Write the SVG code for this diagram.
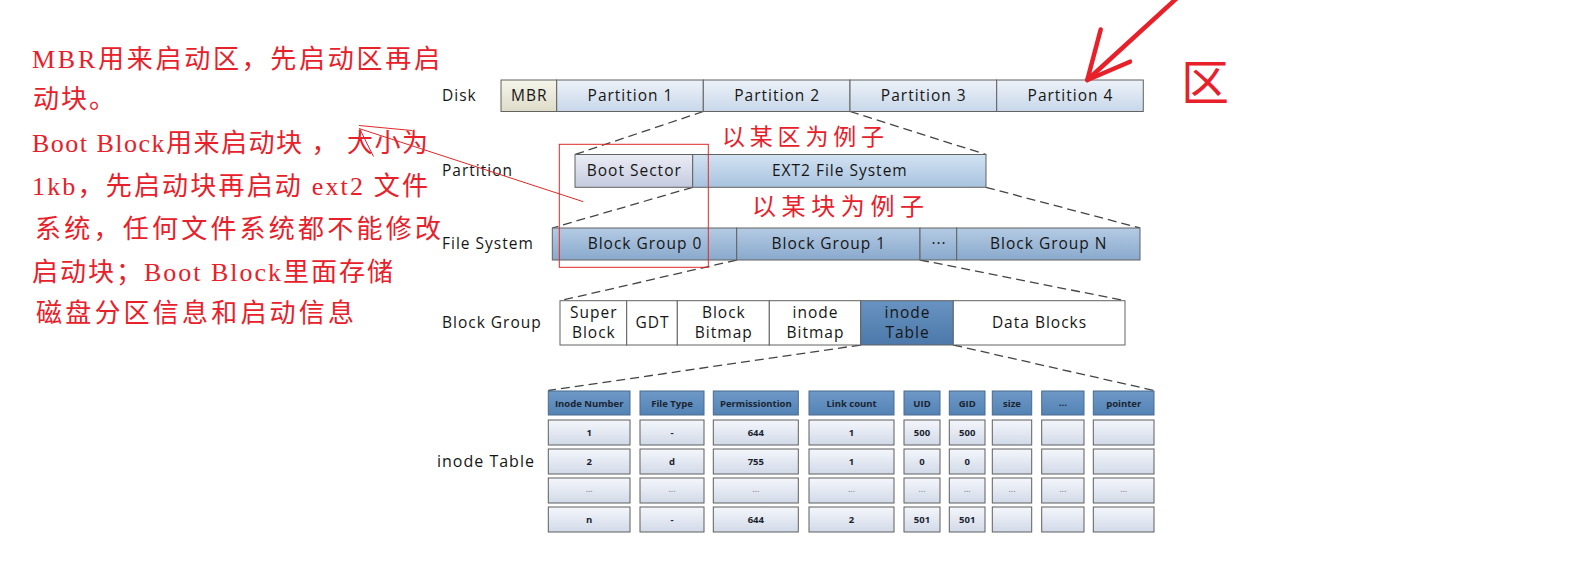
<svg xmlns="http://www.w3.org/2000/svg" width="1584" height="566" viewBox="0 0 1584 566">
<defs>
<linearGradient id="gMBR" x1="0" y1="0" x2="0" y2="1"><stop offset="0" stop-color="#f5f5ea"/><stop offset="1" stop-color="#dedcc8"/></linearGradient>
<linearGradient id="gPart" x1="0" y1="0" x2="0" y2="1"><stop offset="0" stop-color="#edf2f9"/><stop offset="1" stop-color="#c8d7e9"/></linearGradient>
<linearGradient id="gBoot" x1="0" y1="0" x2="0" y2="1"><stop offset="0" stop-color="#ebedf5"/><stop offset="1" stop-color="#c5cadf"/></linearGradient>
<linearGradient id="gExt" x1="0" y1="0" x2="0" y2="1"><stop offset="0" stop-color="#d2e2f2"/><stop offset="1" stop-color="#a8c3df"/></linearGradient>
<linearGradient id="gFS" x1="0" y1="0" x2="0" y2="1"><stop offset="0" stop-color="#b4cbe4"/><stop offset="1" stop-color="#89a9cc"/></linearGradient>
<linearGradient id="gInode" x1="0" y1="0" x2="0" y2="1"><stop offset="0" stop-color="#6893c1"/><stop offset="1" stop-color="#4c79aa"/></linearGradient>
<linearGradient id="gHead" x1="0" y1="0" x2="0" y2="1"><stop offset="0" stop-color="#6e99c7"/><stop offset="1" stop-color="#5383b5"/></linearGradient>
<linearGradient id="gCell" x1="0" y1="0" x2="0" y2="1"><stop offset="0" stop-color="#f4f6fb"/><stop offset="1" stop-color="#d2dae8"/></linearGradient>
</defs>
<style>
.lbl{font-family:"Open Sans","Noto Sans",sans-serif;font-size:15.5px;fill:#161616;letter-spacing:1px}
.c{text-anchor:middle}
.box{stroke:#626262;stroke-width:1}
.cell{fill:url(#gCell);stroke:#5e5e5e;stroke-width:1}
.head{fill:url(#gHead);stroke:#4a6a8c;stroke-width:1}
.tt{font-family:"Open Sans","Noto Sans",sans-serif;font-size:9.5px;font-weight:bold;fill:#1b2430;text-anchor:middle}
.dots{font-family:"Open Sans",sans-serif;font-size:9px;fill:#777;text-anchor:middle}
.dash{stroke:#444;stroke-width:1.3;stroke-dasharray:9 5;fill:none}
.red{font-family:"Liberation Serif","Noto Sans CJK SC",serif;fill:#e8202a}
.rl{stroke:#e02828;stroke-width:1;fill:none}
</style>

<g id="connectors">
<line class="dash" x1="703.3" y1="111.5" x2="575" y2="154.5"/>
<line class="dash" x1="850" y1="111.5" x2="986" y2="154.5"/>
<line class="dash" x1="692.7" y1="187.3" x2="552.3" y2="228"/>
<line class="dash" x1="986" y1="187.3" x2="1140" y2="228"/>
<line class="dash" x1="736.7" y1="260" x2="560" y2="300.7"/>
<line class="dash" x1="920" y1="260" x2="1125" y2="300.7"/>
<line class="dash" x1="860.7" y1="345" x2="548.3" y2="390.5"/>
<line class="dash" x1="953.3" y1="345" x2="1154" y2="390.5"/>
</g>

<g id="disk">
<text class="lbl" x="442" y="100.5">Disk</text>
<rect class="box" x="501" y="80" width="55.7" height="31.5" fill="url(#gMBR)"/>
<text class="lbl c" x="529.3" y="100.5">MBR</text>
<rect class="box" x="556.7" y="80" width="146.6" height="31.5" fill="url(#gPart)"/>
<text class="lbl c" x="630.5" y="100.5">Partition 1</text>
<rect class="box" x="703.3" y="80" width="146.7" height="31.5" fill="url(#gPart)"/>
<text class="lbl c" x="777.2" y="100.5">Partition 2</text>
<rect class="box" x="850" y="80" width="146.7" height="31.5" fill="url(#gPart)"/>
<text class="lbl c" x="923.8" y="100.5">Partition 3</text>
<rect class="box" x="996.7" y="80" width="146.6" height="31.5" fill="url(#gPart)"/>
<text class="lbl c" x="1070.5" y="100.5">Partition 4</text>
</g>

<g id="partition">
<text class="lbl" x="442" y="175.5">Partition</text>
<rect class="box" x="575" y="154.5" width="117.7" height="32.8" fill="url(#gBoot)"/>
<text class="lbl c" x="634.3" y="176">Boot Sector</text>
<rect class="box" x="692.7" y="154.5" width="293.3" height="32.8" fill="url(#gExt)"/>
<text class="lbl c" x="839.8" y="176">EXT2 File System</text>
</g>

<g id="filesystem">
<text class="lbl" x="442" y="249">File System</text>
<rect class="box" x="552.3" y="228" width="184.4" height="32" fill="url(#gFS)"/>
<text class="lbl c" x="645" y="249">Block Group 0</text>
<rect class="box" x="736.7" y="228" width="183.3" height="32" fill="url(#gFS)"/>
<text class="lbl c" x="828.8" y="249">Block Group 1</text>
<rect class="box" x="920" y="228" width="36.7" height="32" fill="url(#gFS)"/>
<text class="lbl c" x="939" y="249">···</text>
<rect class="box" x="956.7" y="228" width="183.3" height="32" fill="url(#gFS)"/>
<text class="lbl c" x="1048.8" y="249">Block Group N</text>
</g>

<g id="blockgroup">
<text class="lbl" x="442" y="327.5">Block Group</text>
<rect class="box" x="560" y="300.7" width="66.7" height="44.3" fill="#fff"/>
<text class="lbl c" x="593.8" y="317.5">Super</text>
<text class="lbl c" x="593.8" y="337.5">Block</text>
<rect class="box" x="626.7" y="300.7" width="50.6" height="44.3" fill="#fff"/>
<text class="lbl c" x="652.5" y="327.5">GDT</text>
<rect class="box" x="677.3" y="300.7" width="92" height="44.3" fill="#fff"/>
<text class="lbl c" x="723.8" y="317.5">Block</text>
<text class="lbl c" x="723.8" y="337.5">Bitmap</text>
<rect class="box" x="769.3" y="300.7" width="91.4" height="44.3" fill="#fff"/>
<text class="lbl c" x="815.5" y="317.5">inode</text>
<text class="lbl c" x="815.5" y="337.5">Bitmap</text>
<rect class="box" x="860.7" y="300.7" width="92.6" height="44.3" fill="url(#gInode)"/>
<text class="lbl c" x="907.5" y="317.5">inode</text>
<text class="lbl c" x="907.5" y="337.5">Table</text>
<rect class="box" x="953.3" y="300.7" width="171.7" height="44.3" fill="#fff"/>
<text class="lbl c" x="1039.5" y="327.5">Data Blocks</text>
</g>

<g id="inodetable">
<text class="lbl" x="437" y="467" style="font-size:16px">inode Table</text>
<rect class="head" x="548.3" y="391" width="81.7" height="24"/><text class="tt" x="589.2" y="406.5">Inode Number</text>
<rect class="head" x="640" y="391" width="64" height="24"/><text class="tt" x="672" y="406.5">File Type</text>
<rect class="head" x="713.3" y="391" width="85" height="24"/><text class="tt" x="755.8" y="406.5">Permissiontion</text>
<rect class="head" x="809" y="391" width="85" height="24"/><text class="tt" x="851.5" y="406.5">Link count</text>
<rect class="head" x="904" y="391" width="36" height="24"/><text class="tt" x="922" y="406.5">UID</text>
<rect class="head" x="949.3" y="391" width="35.7" height="24"/><text class="tt" x="967.2" y="406.5">GID</text>
<rect class="head" x="992.3" y="391" width="39.4" height="24"/><text class="tt" x="1012" y="406.5">size</text>
<rect class="head" x="1041.7" y="391" width="42.3" height="24"/><text class="tt" x="1062.8" y="405.5">...</text>
<rect class="head" x="1093.3" y="391" width="60.7" height="24"/><text class="tt" x="1123.7" y="406.5">pointer</text>
<rect class="cell" x="548.3" y="420" width="81.7" height="25"/><text class="tt" x="589.2" y="436">1</text>
<rect class="cell" x="640" y="420" width="64" height="25"/><text class="tt" x="672" y="436">-</text>
<rect class="cell" x="713.3" y="420" width="85" height="25"/><text class="tt" x="755.8" y="436">644</text>
<rect class="cell" x="809" y="420" width="85" height="25"/><text class="tt" x="851.5" y="436">1</text>
<rect class="cell" x="904" y="420" width="36" height="25"/><text class="tt" x="922" y="436">500</text>
<rect class="cell" x="949.3" y="420" width="35.7" height="25"/><text class="tt" x="967.2" y="436">500</text>
<rect class="cell" x="992.3" y="420" width="39.4" height="25"/>
<rect class="cell" x="1041.7" y="420" width="42.3" height="25"/>
<rect class="cell" x="1093.3" y="420" width="60.7" height="25"/>
<rect class="cell" x="548.3" y="449" width="81.7" height="25"/><text class="tt" x="589.2" y="465">2</text>
<rect class="cell" x="640" y="449" width="64" height="25"/><text class="tt" x="672" y="465">d</text>
<rect class="cell" x="713.3" y="449" width="85" height="25"/><text class="tt" x="755.8" y="465">755</text>
<rect class="cell" x="809" y="449" width="85" height="25"/><text class="tt" x="851.5" y="465">1</text>
<rect class="cell" x="904" y="449" width="36" height="25"/><text class="tt" x="922" y="465">0</text>
<rect class="cell" x="949.3" y="449" width="35.7" height="25"/><text class="tt" x="967.2" y="465">0</text>
<rect class="cell" x="992.3" y="449" width="39.4" height="25"/>
<rect class="cell" x="1041.7" y="449" width="42.3" height="25"/>
<rect class="cell" x="1093.3" y="449" width="60.7" height="25"/>
<rect class="cell" x="548.3" y="478" width="81.7" height="25"/><text class="dots" x="589.2" y="492">...</text>
<rect class="cell" x="640" y="478" width="64" height="25"/><text class="dots" x="672" y="492">...</text>
<rect class="cell" x="713.3" y="478" width="85" height="25"/><text class="dots" x="755.8" y="492">...</text>
<rect class="cell" x="809" y="478" width="85" height="25"/><text class="dots" x="851.5" y="492">...</text>
<rect class="cell" x="904" y="478" width="36" height="25"/><text class="dots" x="922" y="492">...</text>
<rect class="cell" x="949.3" y="478" width="35.7" height="25"/><text class="dots" x="967.2" y="492">...</text>
<rect class="cell" x="992.3" y="478" width="39.4" height="25"/><text class="dots" x="1012" y="492">...</text>
<rect class="cell" x="1041.7" y="478" width="42.3" height="25"/><text class="dots" x="1062.8" y="492">...</text>
<rect class="cell" x="1093.3" y="478" width="60.7" height="25"/><text class="dots" x="1123.7" y="492">...</text>
<rect class="cell" x="548.3" y="507" width="81.7" height="25"/><text class="tt" x="589.2" y="523">n</text>
<rect class="cell" x="640" y="507" width="64" height="25"/><text class="tt" x="672" y="523">-</text>
<rect class="cell" x="713.3" y="507" width="85" height="25"/><text class="tt" x="755.8" y="523">644</text>
<rect class="cell" x="809" y="507" width="85" height="25"/><text class="tt" x="851.5" y="523">2</text>
<rect class="cell" x="904" y="507" width="36" height="25"/><text class="tt" x="922" y="523">501</text>
<rect class="cell" x="949.3" y="507" width="35.7" height="25"/><text class="tt" x="967.2" y="523">501</text>
<rect class="cell" x="992.3" y="507" width="39.4" height="25"/>
<rect class="cell" x="1041.7" y="507" width="42.3" height="25"/>
<rect class="cell" x="1093.3" y="507" width="60.7" height="25"/>
</g>

<g id="annotations">
<text class="red" x="32" y="68" font-size="26" textLength="408" lengthAdjust="spacing">MBR用来启动区，先启动区再启</text>
<text class="red" x="33" y="108" font-size="26" letter-spacing="2">动块。</text>
<text class="red" x="32" y="152" font-size="26" textLength="396" lengthAdjust="spacing">Boot Block用来启动块 ， 大小为</text>
<text class="red" x="32" y="195" font-size="26" textLength="396" lengthAdjust="spacing">1kb，先启动块再启动 ext2 文件</text>
<text class="red" x="35" y="238" font-size="26" textLength="406" lengthAdjust="spacing">系统，任何文件系统都不能修改</text>
<text class="red" x="32" y="281" font-size="26" textLength="361" lengthAdjust="spacing">启动块；Boot Block里面存储</text>
<text class="red" x="36" y="322" font-size="26" textLength="318" lengthAdjust="spacing">磁盘分区信息和启动信息</text>
<text class="red" x="722" y="145" font-size="23" textLength="162" lengthAdjust="spacing">以某区为例子</text>
<text class="red" x="752" y="215" font-size="24" textLength="172" lengthAdjust="spacing">以某块为例子</text>
<text class="red" x="1181" y="100" font-size="48">区</text>
<line class="rl" x1="359" y1="125.5" x2="412" y2="130.5"/>
<line class="rl" x1="359" y1="128.5" x2="583.3" y2="201.7"/>
<line class="rl" x1="360" y1="129.5" x2="373.5" y2="156.5"/>
<rect class="rl" x="559.3" y="144.3" width="149" height="123"/>
<polyline points="1177,-2 1087.3,80" fill="none" stroke="#e8202a" stroke-width="4.5" stroke-linecap="round"/>
<polyline points="1100.7,29.5 1087.3,80 1130,61.7" fill="none" stroke="#e8202a" stroke-width="4.5" stroke-linecap="round" stroke-linejoin="round"/>
</g>
</svg>
